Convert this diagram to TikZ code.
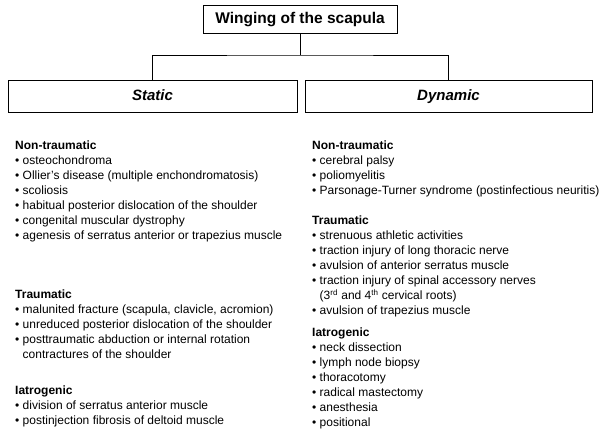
\documentclass[tikz,border=0pt]{standalone}
\usepackage{fontspec}
\setmainfont{Liberation Sans}
\usetikzlibrary{positioning}
\newcommand{\itm}{\textbullet\ }
\newcommand{\ind}{\phantom{\textbullet\ }}
\tikzset{
  box/.style={draw,line width=1pt,minimum height=32pt,text depth=0.25ex,font=\fontsize{15}{17}\selectfont\bfseries\itshape},
  list/.style={anchor=north west,align=left,inner sep=0pt,font=\fontsize{12}{15}\selectfont},
  link/.style={line width=0.8pt}
}
\begin{document}
\begin{tikzpicture}[x=1pt,y=-1pt]
 \useasboundingbox (0,0) rectangle (600,429);
 \node[box,minimum width=194pt,minimum height=28pt,font=\fontsize{15.5}{17}\selectfont\bfseries] (title) at (300,19) {Winging of the scapula};
 \node[box,minimum width=289pt] (static) at (152.5,96) {Static};
 \node[box,minimum width=287pt] (dynamic) at (448.5,96) {Dynamic};
 \coordinate (mid) at (300,55);
 \draw[link] (title.south) -- (mid);
 \draw[link] (static.north) |- (mid) -| (dynamic.north);
 % left column
 \node[list] (snontr) at (15,141) {\textbf{Non-traumatic}\\
  \itm osteochondroma\\
  \itm Ollier’s disease (multiple enchondromatosis)\\
  \itm scoliosis\\
  \itm habitual posterior dislocation of the shoulder\\
  \itm congenital muscular dystrophy\\
  \itm agenesis of serratus anterior or trapezius muscle};
 \node[list] (strau) at (15,290) {\textbf{Traumatic}\\
  \itm malunited fracture (scapula, clavicle, acromion)\\
  \itm unreduced posterior dislocation of the shoulder\\
  \itm posttraumatic abduction or internal rotation\\
  \ind contractures of the shoulder};
 \node[list] (siatr) at (15,386) {\textbf{Iatrogenic}\\
  \itm division of serratus anterior muscle\\
  \itm postinjection fibrosis of deltoid muscle};
 % right column
 \node[list] (dnontr) at (312,141) {\textbf{Non-traumatic}\\
  \itm cerebral palsy\\
  \itm poliomyelitis\\
  \itm Parsonage-Turner syndrome (postinfectious neuritis)};
 \node[list] (dtrau) at (312,216) {\textbf{Traumatic}\\
  \itm strenuous athletic activities\\
  \itm traction injury of long thoracic nerve\\
  \itm avulsion of anterior serratus muscle\\
  \itm traction injury of spinal accessory nerves\\
  \ind (3\textsuperscript{rd} and 4\textsuperscript{th} cervical roots)\\
  \itm avulsion of trapezius muscle};
 \node[list] (diatr) at (312,328) {\textbf{Iatrogenic}\\
  \itm neck dissection\\
  \itm lymph node biopsy\\
  \itm thoracotomy\\
  \itm radical mastectomy\\
  \itm anesthesia\\
  \itm positional};
\end{tikzpicture}
\end{document}
